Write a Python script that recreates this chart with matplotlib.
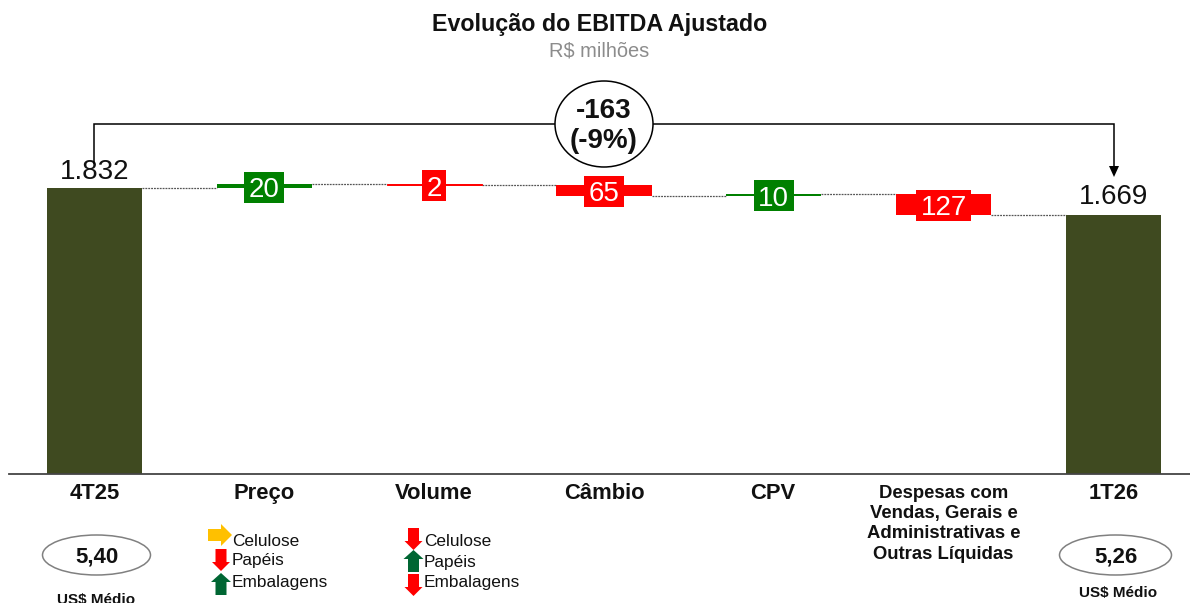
import matplotlib
matplotlib.use('Agg')
import matplotlib.pyplot as plt
from matplotlib.patches import Ellipse, Polygon, Rectangle

plt.rcParams['font.family'] = ['Liberation Sans', 'DejaVu Sans']

categories = ['4T25', 'Preço', 'Volume', 'Câmbio', 'CPV',
              'Despesas com\nVendas, Gerais e\nAdministrativas e\nOutras Líquidas', '1T26']
start_value = 1832
end_value = 1669
deltas = [20, -2, -65, 10, -127]
usd_values = ['5,40', '5,26']
preco_items = ['Celulose', 'Papéis', 'Embalagens']
preco_dirs = ['flat', 'down', 'up']
volume_items = ['Celulose', 'Papéis', 'Embalagens']
volume_dirs = ['down', 'up', 'down']

OLIVE = '#3F4A20'
GREEN = '#008000'
RED = '#FF0000'
W, H = 1190, 603

fig = plt.figure(figsize=(W / 100, H / 100), dpi=100)

# main axes: baseline at y=474px, the axis is truncated like the original
ax = fig.add_axes([9 / W, (H - 474) / H, (W - 9) / W, 474 / H])
ax.set_xlim(-0.503, 6.45)
ax.set_ylim(108, 108 + 474 / 0.166)
ax.patch.set_alpha(0)
for s in ['top', 'left', 'right']:
    ax.spines[s].set_visible(False)
ax.spines['bottom'].set_color('#444444')
ax.spines['bottom'].set_linewidth(1.3)
ax.set_yticks([])
ax.set_xticks([])

# overlay in pixel coords for the annotations
ov = fig.add_axes([0, 0, 1, 1])
ov.set_xlim(0, W)
ov.set_ylim(H, 0)
ov.axis('off')
ov.patch.set_alpha(0)


def to_px(x, y):
    return ov.transData.inverted().transform(ax.transData.transform((x, y)))


bar_w = 0.56
ax.bar(0, start_value, bar_w, color=OLIVE, zorder=2)
ax.bar(6, end_value, bar_w, color=OLIVE, zorder=2)
ax.text(0, start_value + 18, '1.832', ha='center', va='bottom', fontsize=20, color='#111111')
ax.text(6, end_value + 30, '1.669', ha='center', va='bottom', fontsize=20, color='#111111')

box_w = {1: 24, 2: 40, 3: 55}
level = start_value
prev_right = bar_w / 2
for i, d in enumerate(deltas):
    x = i + 1
    new = level + d
    col = GREEN if d > 0 else RED
    # edge keeps the very small step visible as a thin line
    ax.bar(x, abs(d), bar_w, bottom=min(level, new), color=col, ec=col,
           lw=0.7 if abs(d) < 5 else 0, zorder=2)
    ax.plot([prev_right, x - bar_w / 2], [level, level], color='#555555', lw=0.9,
            ls=(0, (1.5, 0.8)), zorder=1)
    cx, cy = to_px(x, (level + new) / 2)
    cy += 1
    lab = str(abs(d))
    bw = box_w[len(lab)]
    ov.add_patch(Rectangle((cx - bw / 2, cy - 15.5), bw, 31, fc=col, ec='none', zorder=3))
    ov.text(cx, cy, lab, ha='center', va='center_baseline', fontsize=20, color='white', zorder=4)
    prev_right = x + bar_w / 2
    level = new
ax.plot([prev_right, 6 - bar_w / 2], [level, level], color='#555555', lw=0.9,
        ls=(0, (1.5, 0.8)), zorder=1)

ov.text(600, 25, 'Evolução do EBITDA Ajustado', ha='center', va='center',
        fontsize=16.75, fontweight='bold', color='#111111')
ov.text(599, 51, 'R$ milhões', ha='center', va='center', fontsize=14.4, color='#8c8c8c')

# bracket with the total change
ov.plot([94, 94, 1114, 1114], [163, 124, 124, 166], color='black', lw=1.1, solid_joinstyle='miter')
ov.add_patch(Polygon([[1109, 166], [1119, 166], [1114, 177]], fc='black', ec='none'))
ov.add_patch(Ellipse((604, 124), 98, 86, fc='white', ec='black', lw=1.1, zorder=3))
ov.text(604, 126, '-163\n(-9%)', ha='center', va='center', fontsize=20, fontweight='bold',
        linespacing=1.2, color='#111111', zorder=4)

centers = [94.5, 264.5, 434, 604, 773, 943.5, 1113.5]
for cx, lab in zip(centers, categories):
    if '\n' in lab:
        ov.text(cx, 485, lab, ha='center', va='top', fontweight='bold',
                fontsize=13.3, linespacing=1.25, color='#111111')
    else:
        ov.text(cx, 499, lab, ha='center', va='baseline', fontweight='bold',
                fontsize=15.8, color='#111111')

# exchange rate ellipses
for (cx, w, val, ly) in [(96.5, 108, usd_values[0], 600), (1118.5, 112, usd_values[1], 593)]:
    ecx = cx if cx < 500 else 1115.5
    ov.add_patch(Ellipse((ecx, 555), w, 40, fc='white', ec='#808080', lw=1.1))
    ov.text(ecx, 557, val, ha='center', va='center', fontsize=16, fontweight='bold', color='#111111')
    ov.text(cx - 0.5, ly, 'US$ Médio', ha='center', va='center', fontsize=11,
            fontweight='bold', color='#111111')


def arrow(kind, cx, cy):
    col = {'flat': '#FFC000', 'down': RED, 'up': '#006633'}[kind]
    if kind == 'flat':
        pts = [(-12, -6), (1, -6), (1, -11), (12, 0), (1, 11), (1, 6), (-12, 6)]
    elif kind == 'down':
        pts = [(-5.5, -11), (5.5, -11), (5.5, 2), (9, 2), (0, 11), (-9, 2), (-5.5, 2)]
    else:
        pts = [(-5.5, 11), (5.5, 11), (5.5, -2), (10, -2), (0, -11), (-10, -2), (-5.5, -2)]
    ov.add_patch(Polygon([(cx + a, cy + b) for a, b in pts], fc=col, ec='none'))


for items, dirs, tx, ax_x, ys, tys in [
        (preco_items, preco_dirs, 232, 221, [535, 560, 584], [541, 561, 582]),
        (volume_items, volume_dirs, 424, 413.5, [539, 561, 585], [541, 562, 582])]:
    for it, dr, ay, ty in zip(items, dirs, ys, tys):
        arrow(dr, ax_x - (1 if dr == 'flat' else 0), ay)
        ov.text(tx, ty, it, ha='left', va='center', fontsize=12.4, color='#111111')

fig.savefig('out.png', dpi=100)
